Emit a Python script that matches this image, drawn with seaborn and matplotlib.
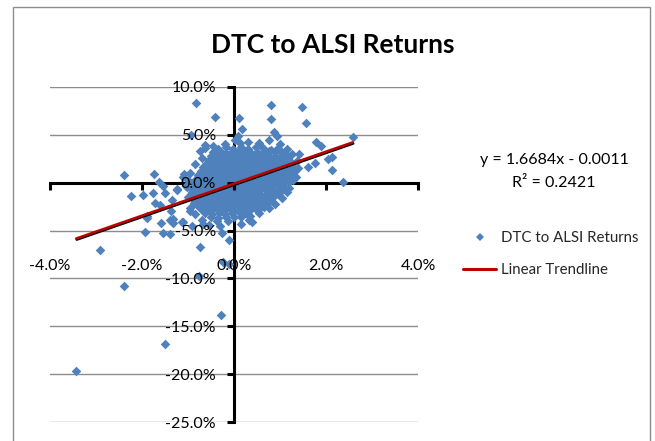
import matplotlib
matplotlib.use("Agg")
import matplotlib.pyplot as plt
import matplotlib.patheffects as pe
from matplotlib.lines import Line2D
from matplotlib.patches import Rectangle
import numpy as np
import pandas as pd
import seaborn as sns

# ---------------- data (percent units) ----------------
title = "DTC to ALSI Returns"
series_name = "DTC to ALSI Returns"
trend_name = "Linear Trendline"
slope = 1.6684
intercept = -0.0011          # fractional units, as in the equation
r_squared = 0.2421

x_ticks = [-4.0, -2.0, 0.0, 2.0, 4.0]
y_ticks = [10.0, 5.0, 0.0, -5.0, -10.0, -15.0, -20.0, -25.0]

# outlying points
outlier_x = [-0.82, 0.81, 1.47, -0.42, 0.10, 0.80, 1.56, 0.18, 0.87, 0.94, -0.93, 0.09,
             2.58, 0.75, 1.78, 1.89, -0.64, -0.64, 0.03, 0.13, 1.42, 2.12, 2.05, 1.75,
             1.60, 2.12, 2.38, 1.29, 1.20, -2.40, -1.74, -1.63, -1.08, -2.25, -1.98, -1.76,
             -1.50, -1.35, -1.23, -1.90, -1.89, -1.59, -1.33, -1.11, -1.33, -1.93, -1.55, -1.39,
             -0.91, -0.67, -0.27, -0.75, -0.10, -2.92, -0.24, -0.11, -2.39, -0.76, -0.29, -1.50,
             -3.43, 0.32, 0.39, 0.57, 0.65]
outlier_y = [8.33, 8.06, 7.88, 6.81, 6.77, 6.63, 6.18, 5.56, 5.31, 4.86, 4.96, 4.86,
             4.76, 4.44, 4.27, 3.85, 3.92, 3.64, 4.41, 4.09, 2.95, 2.63, 2.46, 2.01,
             1.66, 1.31, 0.10, 0.27, -0.60, 0.76, 0.93, 0.10, 0.93, -1.36, -1.29, -1.05,
             -1.12, -1.82, -0.67, -3.45, -3.73, -4.25, -4.25, -4.07, -3.80, -5.12, -5.22, -5.36,
             -4.53, -4.32, -5.29, -6.72, -5.95, -7.06, -8.28, -8.52, -10.75, -9.77, -13.81, -16.83,
             -19.68, -3.87, -4.07, -2.68, -2.51]

# halo around the dense cloud
halo_x = [-0.75, -0.70, -0.85, -0.95, -1.00, -1.05, -1.00, -0.95, -0.85, -0.70, -0.55, -0.30,
          0.15, 0.35, 0.55, 0.75, 0.90, 1.05, 1.15, 1.35, 1.40, 1.38, 1.25, 1.15, 1.00, 0.55,
          0.30, -0.20, -0.45, -1.54, -1.10, -1.25, -1.03, -0.92, -1.36, -1.40, -1.14, -0.96,
          -0.88, -0.81, -1.61, -1.72]
halo_y = [3.30, 2.60, 1.90, 1.00, 0.30, -0.40, -1.50, -2.60, -3.30, -3.90, -4.40, -4.50,
          -4.30, -3.50, -3.20, -2.60, -2.20, -1.60, -1.00, 0.60, 1.50, 2.30, 3.00, 3.50, 4.00, 4.10,
          4.20, 4.00, 3.80, -0.35, 0.60, -0.77, -0.42, -0.95, -3.00, -3.90, -4.07, -3.00,
          -2.16, -1.47, -2.33, -2.16]

# dense cloud around the origin
cloud_x = [
    -0.34, -0.18, -0.02, 0.16, 0.31, 0.47, 0.64, 0.80, 0.95,
    -0.45, -0.31, -0.17, -0.04, 0.09, 0.22, 0.36, 0.49, 0.62, 0.76, 0.90, 1.04,
    -0.50, -0.37, -0.24, -0.11, 0.01, 0.13, 0.26, 0.38, 0.51, 0.63, 0.76, 0.89, 1.02, 1.15,
    -0.55, -0.42, -0.29, -0.16, -0.04, 0.08, 0.20, 0.32, 0.45, 0.57, 0.70, 0.82, 0.95, 1.08, 1.20,
    -0.60, -0.47, -0.34, -0.21, -0.09, 0.03, 0.15, 0.27, 0.39, 0.51, 0.63, 0.75, 0.88, 1.00, 1.13, 1.25,
    -0.68, -0.55, -0.42, -0.29, -0.17, -0.05, 0.07, 0.19, 0.31, 0.43, 0.55, 0.67, 0.79, 0.91, 1.04, 1.17, 1.30,
    -0.72, -0.59, -0.46, -0.33, -0.21, -0.09, 0.03, 0.15, 0.27, 0.39, 0.51, 0.63, 0.75, 0.87, 0.99, 1.11, 1.22, 1.32,
    -0.78, -0.65, -0.52, -0.39, -0.27, -0.15, -0.03, 0.09, 0.21, 0.33, 0.45, 0.57, 0.69, 0.81, 0.93, 1.05, 1.17, 1.29,
    -0.82, -0.69, -0.56, -0.43, -0.31, -0.19, -0.07, 0.05, 0.17, 0.29, 0.41, 0.53, 0.65, 0.77, 0.89, 1.01, 1.13, 1.25,
    -0.86, -0.73, -0.60, -0.47, -0.35, -0.23, -0.11, 0.01, 0.13, 0.25, 0.37, 0.49, 0.61, 0.73, 0.85, 0.97, 1.09, 1.20,
    -0.88, -0.75, -0.62, -0.49, -0.37, -0.25, -0.13, -0.01, 0.11, 0.23, 0.35, 0.47, 0.59, 0.71, 0.83, 0.95, 1.07,
    -0.90, -0.77, -0.64, -0.51, -0.39, -0.27, -0.15, -0.03, 0.09, 0.21, 0.33, 0.45, 0.57, 0.69, 0.81, 0.93, 1.04,
    -0.90, -0.77, -0.64, -0.51, -0.39, -0.27, -0.15, -0.03, 0.09, 0.21, 0.33, 0.45, 0.57, 0.70, 0.82, 0.95,
    -0.88, -0.75, -0.62, -0.49, -0.37, -0.25, -0.13, -0.01, 0.11, 0.23, 0.35, 0.47, 0.60, 0.72, 0.85,
    -0.85, -0.72, -0.59, -0.46, -0.34, -0.22, -0.10, 0.02, 0.14, 0.26, 0.38, 0.51, 0.63, 0.75,
    -0.80, -0.67, -0.54, -0.41, -0.29, -0.17, -0.05, 0.07, 0.19, 0.31, 0.43, 0.55, 0.65,
    -0.72, -0.58, -0.45, -0.32, -0.19, -0.06, 0.07, 0.20, 0.34, 0.48,
    -0.62, -0.47, -0.33, -0.19, -0.04, 0.12, 0.28,
    -0.50, -0.34, -0.17, 0.00, 0.15,
    -0.36, -0.12,
]
cloud_y = [
    3.55, 3.70, 3.48, 3.66, 3.52, 3.74, 3.58, 3.45, 3.62,
    3.15, 3.28, 3.10, 3.24, 3.18, 3.30, 3.12, 3.22, 3.08, 3.26, 3.16, 3.05,
    2.75, 2.86, 2.72, 2.90, 2.78, 2.84, 2.70, 2.88, 2.76, 2.92, 2.74, 2.82, 2.69, 2.85,
    2.38, 2.46, 2.33, 2.42, 2.36, 2.48, 2.31, 2.44, 2.37, 2.29, 2.45, 2.35, 2.43, 2.32, 2.40,
    1.96, 2.05, 1.92, 2.08, 1.98, 1.94, 2.06, 1.90, 2.02, 1.97, 2.09, 1.93, 2.04, 1.95, 2.07, 1.99,
    1.58, 1.66, 1.52, 1.63, 1.55, 1.69, 1.57, 1.61, 1.50, 1.67, 1.59, 1.54, 1.65, 1.60, 1.53, 1.68, 1.56,
    1.18, 1.25, 1.12, 1.27, 1.16, 1.22, 1.10, 1.24, 1.19, 1.28, 1.14, 1.21, 1.17, 1.26, 1.13, 1.23, 1.15, 1.20,
    0.82, 0.76, 0.88, 0.73, 0.84, 0.79, 0.87, 0.74, 0.81, 0.77, 0.86, 0.72, 0.83, 0.78, 0.85, 0.75, 0.80, 0.84,
    0.37, 0.45, 0.33, 0.42, 0.36, 0.48, 0.35, 0.44, 0.31, 0.40, 0.46, 0.34, 0.43, 0.38, 0.47, 0.32, 0.41, 0.39,
    0.03, -0.05, 0.08, -0.02, 0.06, -0.07, 0.04, -0.03, 0.07, -0.06, 0.02, -0.04, 0.05, -0.08, 0.01, 0.06, -0.03, 0.04,
    -0.36, -0.44, -0.33, -0.42, -0.38, -0.47, -0.35, -0.41, -0.32, -0.45, -0.39, -0.43, -0.34, -0.46, -0.37, -0.40, -0.31,
    -0.77, -0.84, -0.73, -0.86, -0.79, -0.75, -0.88, -0.81, -0.74, -0.83, -0.78, -0.87, -0.76, -0.82, -0.72, -0.85, -0.80,
    -1.18, -1.25, -1.13, -1.27, -1.16, -1.22, -1.11, -1.24, -1.19, -1.28, -1.14, -1.21, -1.17, -1.26, -1.12, -1.23,
    -1.57, -1.65, -1.53, -1.68, -1.59, -1.62, -1.55, -1.66, -1.52, -1.63, -1.58, -1.69, -1.56, -1.61, -1.54,
    -1.97, -2.05, -1.93, -2.08, -1.99, -2.03, -1.95, -2.07, -1.92, -2.04, -1.98, -2.06, -1.94, -2.01,
    -2.37, -2.45, -2.33, -2.47, -2.39, -2.42, -2.35, -2.48, -2.36, -2.44, -2.31, -2.43, -2.38,
    -2.77, -2.86, -2.73, -2.88, -2.79, -2.84, -2.75, -2.87, -2.81, -2.74,
    -3.18, -3.27, -3.13, -3.24, -3.21, -3.15, -3.26,
    -3.57, -3.66, -3.54, -3.63, -3.59,
    -3.98, -4.05,
]

# ---------------- styling ----------------
sns.set_theme(style="white")
plt.rcParams["font.family"] = ["Lato", "DejaVu Sans"]

blue = "#4F81BD"
red = "#C00000"
grid_gray = "#8C8C8C"
fs = 11.5

W, H = 655, 441
fig = plt.figure(figsize=(W / 100, H / 100), dpi=100)
fig.patch.set_facecolor("white")

ax_left, ax_right, ax_top, ax_bottom = 50, 418, 86.7, 422.3
ax = fig.add_axes([ax_left / W, 1 - ax_bottom / H, (ax_right - ax_left) / W, (ax_bottom - ax_top) / H])
ax.set_facecolor("none")

df = pd.DataFrame({
    "x": outlier_x + halo_x + cloud_x,
    "y": outlier_y + halo_y + cloud_y,
})

sns.scatterplot(data=df, x="x", y="y", marker="D", s=24, color=blue,
                linewidth=0, ax=ax, legend=False, zorder=2)

x_lo, x_hi = df["x"].min(), df["x"].max()
trend = pd.DataFrame({"x": [x_lo, x_hi]})
trend["y"] = slope * trend["x"] + intercept * 100
sns.lineplot(data=trend, x="x", y="y", color=red, lw=1.8, ax=ax, zorder=3,
             path_effects=[pe.SimpleLineShadow(offset=(0.4, -0.8), shadow_color="black", alpha=1.0),
                           pe.Normal()])

ax.set_xlim(-4, 4)
ax.set_ylim(-25, 10)

# gridlines under points
for yv in y_ticks:
    ax.axhline(yv, color=grid_gray, lw=1.0, zorder=0.5)
ax.grid(False)

# axes crossing at zero
for s in ["top", "right"]:
    ax.spines[s].set_visible(False)
ax.spines["left"].set_position(("data", 0))
ax.spines["bottom"].set_position(("data", 0))
for s in ["left", "bottom"]:
    ax.spines[s].set_linewidth(2.2)
    ax.spines[s].set_color("black")
    ax.spines[s].set_zorder(1.5)

ax.set_axisbelow(False)
ax.set_xticks(x_ticks)
ax.set_xticklabels([f"{v:.1f}%" for v in x_ticks])
ax.set_yticks(y_ticks)
ax.set_yticklabels([f"{v:.1f}%" for v in y_ticks])
ax.tick_params(axis="x", direction="out", length=5, width=2.2, color="black",
               labelsize=fs, pad=50, labelcolor="black", bottom=True)
ax.tick_params(axis="y", direction="out", length=5, width=2.2, color="black",
               labelsize=fs, pad=8, labelcolor="black", left=True)
ax.set_xlabel("")
ax.set_ylabel("")

# title
fig.text(333 / W, 1 - 45 / H, title, ha="center", va="center",
         fontsize=19, fontweight="bold", color="black")

# trendline equation
fig.text(554 / W, 1 - 160 / H, f"y = {slope:.4f}x - {abs(intercept):.4f}",
         ha="center", va="center", fontsize=fs, color="black")
fig.text(554 / W, 1 - 183 / H, f"R\u00b2 = {r_squared:.4f}",
         ha="center", va="center", fontsize=fs, color="black")

# legend
handles = [Line2D([], [], marker="D", ls="none", color=blue, markersize=4, markeredgewidth=0),
           Line2D([], [], color=red, lw=2.2)]
fig.legend(handles, [series_name, trend_name], loc="center left",
           bbox_to_anchor=(463 / W, 1 - 254.5 / H), frameon=False,
           handlelength=2.2, handletextpad=0.3, labelspacing=1.2,
           borderaxespad=0, borderpad=0, fontsize=10.8)

# chart border
fig.add_artist(Rectangle((12.5 / W, -0.02), (650 - 12.5) / W, 1 - 7 / H + 0.02,
                         transform=fig.transFigure, fill=False,
                         edgecolor="#8C8C8C", lw=1.0))

fig.savefig("out.png", dpi=100)
